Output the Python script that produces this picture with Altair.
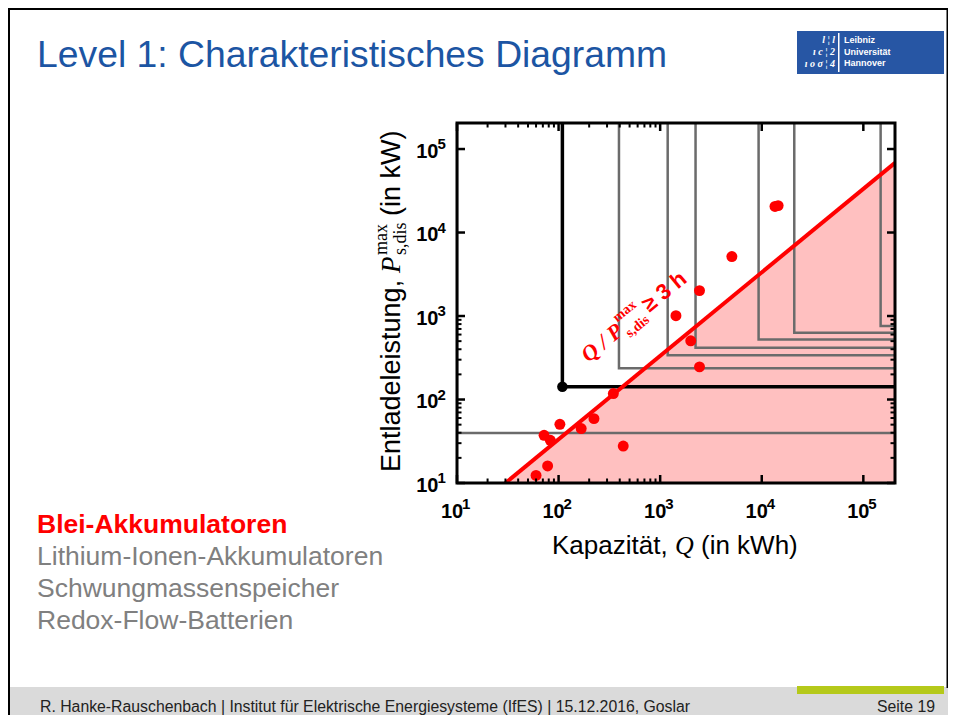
import math
import altair as alt
import pandas as pd

# ---------------- data ----------------
# Blei-Akkumulatoren: capacity Q (kWh) and max. discharge power P (kW)
lead_Q = [60, 78, 72, 83, 103, 167, 223, 346, 433, 1430, 2000, 2440, 2440, 5080, 13500, 14500]
lead_P = [12.3, 16, 37.3, 32.5, 50.5, 44.9, 59, 118, 27.7, 1010, 505, 2015, 246, 5150, 20500, 21000]

# minimum-requirement corners of the other applications (grey L-shapes)
other_Q = [10, 393, 1186, 2230, 9310, 20900, 148000]
other_P = [39.7, 236, 340, 416, 525, 631, 759]

# highlighted requirement corner (black L-shape with dot)
focus_Q = [109]
focus_P = [142]

ratio_h = 3              # Q / P_max >= 3 h
line_Q = [30, 2.05e5]    # end points of the 3 h boundary line
anno_Q = [350]           # anchor of the boundary label

x_domain = [10, 2.05e5]
y_domain = [10, 2.05e5]

major_ticks = [10, 100, 1000, 10000, 100000]
tick_base = "10"
tick_exponents = ["1", "2", "3", "4", "5"]
minor_ticks = [20, 30, 40, 50, 60, 70, 80, 90, 200, 300, 400, 500, 600, 700, 800, 900]

title_text = "Level 1: Charakteristisches Diagramm"
list_items = ["Blei-Akkumulatoren", "Lithium-Ionen-Akkumulatoren",
              "Schwungmassenspeicher", "Redox-Flow-Batterien"]
footer_left = "R. Hanke-Rauschenbach | Institut f\u00fcr Elektrische Energiesysteme (IfES) | 15.12.2016, Goslar"
footer_right = "Seite 19"

# ---------------- layout ----------------
W, H = 438, 360          # plot area
OX, OY = 457, 123        # page position of plot origin
PAD = {"left": OX - 8, "top": OY - 8, "right": 940 - (OX - 8) - W, "bottom": 707 - (OY - 8) - H}


def px(x):
    return x - OX


def py(y):
    return y - OY


SANS = "Liberation Sans"
SERIF = "Liberation Serif"

xs = alt.Scale(type="log", domain=x_domain, nice=False)
ys = alt.Scale(type="log", domain=y_domain, nice=False)

common_axis = dict(values=major_ticks, labelExpr=f"'{tick_base}'",
                   ticks=False, domain=False, grid=False, title=None,
                   labelFont=SANS, labelFontWeight="bold", labelFontSize=20,
                   labelColor="black", labelOverlap=False, labelFlush=False)
x_axis = alt.Axis(labelPadding=34, labelBaseline="alphabetic", labelAlign="center",
                  labelOffset=-5.5, **common_axis)
y_axis = alt.Axis(labelPadding=19, labelBaseline="alphabetic", labelAlign="right",
                  labelOffset=8, **common_axis)


def X(f):
    return alt.X(f, type="quantitative", scale=xs, axis=x_axis)


def Y(f):
    return alt.Y(f, type="quantitative", scale=ys, axis=y_axis)


one = pd.DataFrame({"a": [0]})

# ---------------- plot layers ----------------
line_df = pd.DataFrame({"Q": line_Q})
line_df["P"] = line_df["Q"] / ratio_h
line_df["P0"] = y_domain[0]

area = alt.Chart(line_df).mark_area(color="#ffc0c0", clip=True).encode(
    x=X("Q"), y=Y("P"), y2="P0")


def corner_frame(qs, ps):
    rows = []
    for i, (q, p) in enumerate(zip(qs, ps)):
        rows += [dict(g=i, o=0, Q=q, P=y_domain[1] * 3),
                 dict(g=i, o=1, Q=q, P=p),
                 dict(g=i, o=2, Q=x_domain[1] * 3, P=p)]
    return pd.DataFrame(rows)


grey = alt.Chart(corner_frame(other_Q, other_P)).mark_line(
    color="#6b6b6b", strokeWidth=2.5, clip=True).encode(
    x=X("Q"), y=Y("P"), detail="g:N", order="o:Q")
black = alt.Chart(corner_frame(focus_Q, focus_P)).mark_line(
    color="black", strokeWidth=3.5, clip=True).encode(
    x=X("Q"), y=Y("P"), detail="g:N", order="o:Q")
black_dot = alt.Chart(pd.DataFrame({"Q": focus_Q, "P": focus_P})).mark_circle(
    color="black", size=110, opacity=1).encode(x=X("Q"), y=Y("P"))

red_line = alt.Chart(line_df).mark_line(color="#ff0000", strokeWidth=4, clip=True).encode(
    x=X("Q"), y=Y("P"))

points = alt.Chart(pd.DataFrame({"Q": lead_Q, "P": lead_P})).mark_circle(
    color="#ff0000", size=120, opacity=1).encode(x=X("Q"), y=Y("P"))

# ticks pointing inwards on all four sides
tick_layers = []
for vals, ln, sw in [(major_ticks, 8, 2.5), (minor_ticks, 4.5, 2)]:
    tdf = pd.DataFrame({"v": vals})
    rule = alt.Chart(tdf).mark_rule(color="black", strokeWidth=sw)
    tick_layers += [
        rule.encode(x=X("v"), y=alt.value(H), y2=alt.value(H - ln)),
        rule.encode(x=X("v"), y=alt.value(0), y2=alt.value(ln)),
        rule.encode(y=Y("v"), x=alt.value(0), x2=alt.value(ln)),
        rule.encode(y=Y("v"), x=alt.value(W), x2=alt.value(W - ln)),
    ]

# exponents of the tick labels (10^n)
exp_df = pd.DataFrame({"v": major_ticks, "e": tick_exponents})
exp_style = dict(align="left", baseline="alphabetic", font=SANS, fontSize=15, fontWeight="bold", color="black")
x_exp = alt.Chart(exp_df).mark_text(dx=5, **exp_style).encode(
    x=X("v"), y=alt.value(H + 26), text="e:N")
y_exp = alt.Chart(exp_df).mark_text(dy=0, **exp_style).encode(
    y=Y("v"), x=alt.value(-19.5), text="e:N")

frame = alt.Chart(one).mark_rect(fillOpacity=0, stroke="black", strokeWidth=3).encode(
    x=alt.value(0), x2=alt.value(W), y=alt.value(0), y2=alt.value(H))

# rotated boundary label, along the 3 h line
angle = 360 - math.degrees(math.atan(H / W))
anno_df = pd.DataFrame({"Q": anno_Q})
anno_df["P"] = anno_df["Q"] / ratio_h


def anno(text, dx, dy, size, font, style="normal"):
    return alt.Chart(anno_df).mark_text(
        align="left", baseline="alphabetic", angle=angle, dx=dx, dy=dy,
        font=font, fontSize=size, fontWeight="bold", fontStyle=style, color="#ff0000"
    ).encode(x=X("Q"), y=Y("P"), text=alt.value(text))


anno_layers = [
    anno("Q / P", 0, -40, 22, SERIF, "italic"),
    anno("max", 48, -53, 14, SERIF),
    anno("s,dis", 48, -33, 14, SERIF),
    anno("\u2265 3 h", 79, -40, 22, SANS),
]


# ---------------- slide decoration ----------------
def note(text, x, y, size, color="black", weight="normal", style="normal", font=SANS,
         align="left", angle=0, dx=0, dy=0):
    return alt.Chart(pd.DataFrame({"t": [text]})).mark_text(
        align=align, baseline="alphabetic", font=font, fontSize=size, fontWeight=weight,
        fontStyle=style, color=color, angle=angle, dx=dx, dy=dy
    ).encode(x=alt.value(x), y=alt.value(y), text="t:N")


def box(x1, y1, x2, y2, color):
    return alt.Chart(one).mark_rect(color=color).encode(
        x=alt.value(px(x1)), x2=alt.value(px(x2)), y=alt.value(py(y1)), y2=alt.value(py(y2)))


YT = 472  # page y where the rotated y-axis title starts
deco = [
    box(8, 687, 960, 730, "#dadada"),
    box(797, 686, 944, 694, "#b5c91a"),
    box(8, 7, 960, 10, "black"),
    box(7, 7, 10, 730, "black"),
    box(946.5, 7, 949, 688, "black"),
    box(797, 31, 944, 74, "#2756a4"),
    box(838, 33, 839.5, 72, "white"),
    note("Leibniz", px(844), py(43), 9, "white", "bold"),
    note("Universit\u00e4t", px(844), py(54.5), 9, "white", "bold"),
    note("Hannover", px(844), py(66), 9, "white", "bold"),
    note("l \u00a6 l", px(835), py(43), 10, "white", "bold", "italic", SERIF, "right"),
    note("\u0131 c \u00a6 2", px(835), py(55), 10, "white", "bold", "italic", SERIF, "right"),
    note("\u0131 o \u03c3 \u00a6 4", px(835), py(67), 10, "white", "bold", "italic", SERIF, "right"),
    note(title_text, px(37), py(67), 37.3, "#1c55a3"),
    note(list_items[0], px(37), py(533), 26.5, "#ff0000", "bold"),
    note(list_items[1], px(37), py(565), 26.5, "#808080"),
    note(list_items[2], px(37), py(597), 26.5, "#808080"),
    note(list_items[3], px(37), py(629), 26.5, "#808080"),
    note(footer_left, px(40), py(712), 15.8, "#222222"),
    note(footer_right, px(935), py(712), 15.8, "#222222", align="right"),
    # x axis title
    note("Kapazit\u00e4t,", px(552), py(554), 26),
    note("Q", px(675), py(554), 26, style="italic", font=SERIF),
    note("(in kWh)", px(701), py(554), 26),
    # y axis title (rotated)
    note("Entladeleistung,", px(400), py(YT), 27, angle=270),
    note("P", px(400), py(YT), 27, style="italic", font=SERIF, angle=270, dx=199),
    note("max", px(400), py(YT), 18, font=SERIF, angle=270, dx=217, dy=-13),
    note("s,dis", px(400), py(YT), 18, font=SERIF, angle=270, dx=217, dy=6),
    note("(in kW)", px(400), py(YT), 27, angle=270, dx=256),
]

chart = alt.layer(
    *deco, area, grey, black, red_line, points, black_dot, *anno_layers,
    *tick_layers, x_exp, y_exp, frame
).properties(
    width=W, height=H,
    autosize=alt.AutoSizeParams(type="none"),
    padding=PAD,
    background="white",
).configure_view(stroke="transparent")

chart.save("out.html", embed_options={"renderer": "svg", "actions": False})
